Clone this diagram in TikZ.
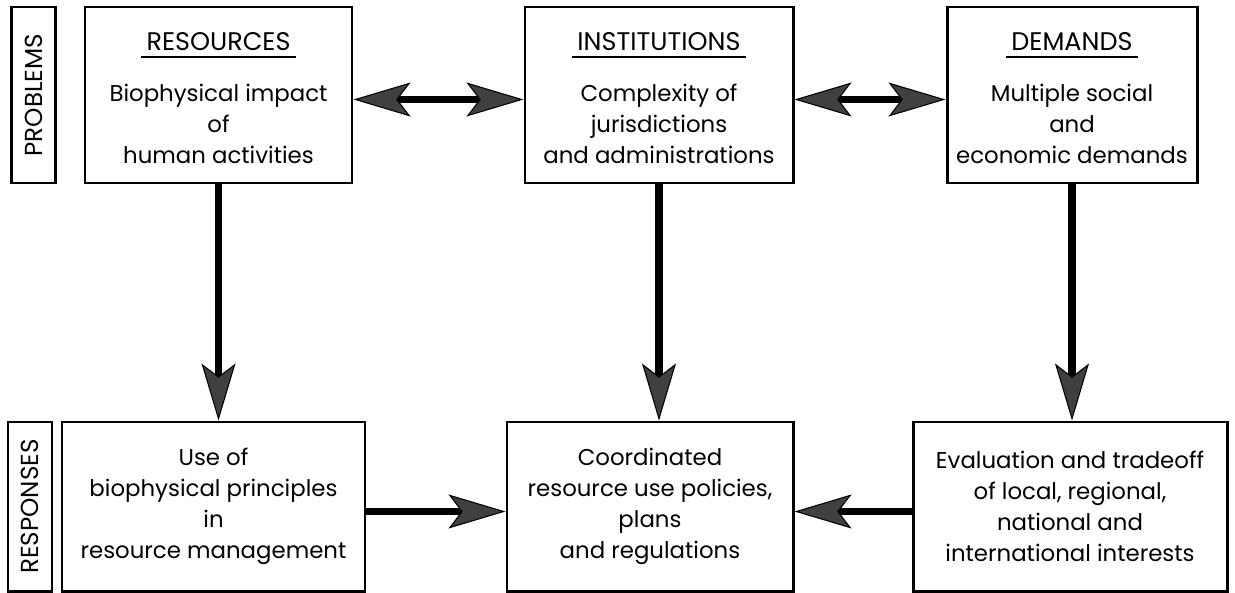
\documentclass[tikz,border=0pt]{standalone}
\usepackage{fontspec}
\setmainfont{Poppins}
\usetikzlibrary{arrows.meta,positioning}

\begin{document}
\begin{tikzpicture}[
    box/.style={rectangle, draw, line width=1.7pt, inner sep=2pt, align=center, font=\fontsize{13}{17.6}\selectfont},
    tag/.style={box, rotate=90, minimum height=0.88cm, font=\fontsize{14}{17}\selectfont},
    head/.style={inner xsep=0.1cm, font=\fontsize{14.5}{17}\selectfont},
    body/.style={align=center, inner sep=0pt, font=\fontsize{13}{17.6}\selectfont},
    uline/.style={line width=1.4pt},
    arrow/.style={-{Stealth[length=1.14cm, width=0.68cm, inset=0.26cm, line width=0.6pt, fill=black!75]}, line width=4.5pt},
    dblarrow/.style={{Stealth[length=1.14cm, width=0.68cm, inset=0.26cm, line width=0.6pt, fill=black!75]}-{Stealth[length=1.14cm, width=0.68cm, inset=0.26cm, line width=0.6pt, fill=black!75]}, line width=4.5pt}
]
\useasboundingbox (0,0) rectangle (24.7,-11.86);
% problems row
\node[tag, minimum width=3.52cm] (probl) at (0.67,-1.9) {PROBLEMS};
\node[box, minimum width=5.34cm, minimum height=3.52cm] (res) at (4.37,-1.9) {};
\node[box, minimum width=5.36cm, minimum height=3.52cm] (inst) at (13.18,-1.9) {};
\node[box, minimum width=5.0cm, minimum height=3.52cm] (dem) at (21.44,-1.9) {};
\node[head] (reshead) at ([yshift=-0.72cm]res.north) {RESOURCES};
\node[head] (insthead) at ([yshift=-0.72cm]inst.north) {INSTITUTIONS};
\node[head] (demhead) at ([yshift=-0.72cm]dem.north) {DEMANDS};
\draw[uline] ([yshift=-0.31cm]reshead.west) -- ([yshift=-0.31cm]reshead.east);
\draw[uline] ([yshift=-0.31cm]insthead.west) -- ([yshift=-0.31cm]insthead.east);
\draw[uline] ([yshift=-0.31cm]demhead.west) -- ([yshift=-0.31cm]demhead.east);
\node[body] (resbody) at ([yshift=-0.58cm]res.center) {Biophysical impact\\of\\human activities};
\node[body] (instbody) at ([yshift=-0.58cm]inst.center) {Complexity of\\jurisdictions\\and administrations};
\node[body] (dembody) at ([yshift=-0.58cm]dem.center) {Multiple social\\and\\economic demands};
% responses row
\node[tag, minimum width=3.38cm] (respo) at (0.60,-10.13) {RESPONSES};
\node[box, minimum width=6.06cm, minimum height=3.38cm] (use) at (4.27,-10.13) {Use of\\biophysical principles\\in\\resource management};
\node[box, minimum width=5.72cm, minimum height=3.38cm] (coord) at (13.0,-10.13) {Coordinated\\resource use policies,\\plans\\and regulations};
\node[box, minimum width=6.28cm, minimum height=3.38cm] (eval) at (21.4,-10.13) {Evaluation and tradeoff\\of local, regional,\\national and\\international interests};
% connectors
\draw[dblarrow] ([yshift=-0.09cm]res.east) -- ([yshift=-0.09cm]inst.west);
\draw[dblarrow] ([yshift=-0.09cm]inst.east) -- ([yshift=-0.09cm]dem.west);
\draw[arrow] (res.south) -- (res.south |- use.north);
\draw[arrow] (inst.south) -- (inst.south |- coord.north);
\draw[arrow] (dem.south) -- (dem.south |- eval.north);
\draw[arrow] ([yshift=-0.1cm]use.east) -- ([yshift=-0.1cm]coord.west);
\draw[arrow] ([yshift=-0.1cm]eval.west) -- ([yshift=-0.1cm]coord.east);
\end{tikzpicture}
\end{document}
